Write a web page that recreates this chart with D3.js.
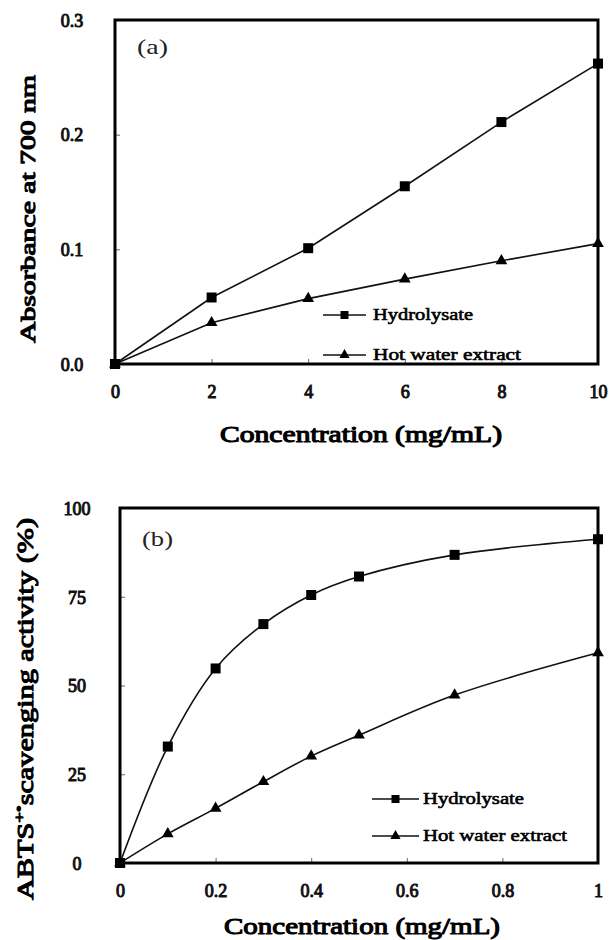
<!DOCTYPE html>
<html>
    <head>
        <meta charset="utf-8">
        <style>
        body {
            margin: 0;
            background: #fff;
        }
        svg text {
            font-family: "Liberation Serif", "Times New Roman", serif;
        }
        /* bold serif falls back to a sans face here, so thicken the regular face instead */
        .fb {
            font-weight: normal;
            stroke: #000;
            stroke-width: 1.1px;
            stroke-linejoin: round;
        }
        .tick line {
            stroke: #666;
            stroke-width: 1px;
        }
        .tick text {
            font-family: "Liberation Serif", "Times New Roman", serif;
            font-size: 18px;
            fill: #111;
            stroke: #111;
            stroke-width: 1px;
        }
        </style>
        <script src="https://d3js.org/d3.v7.min.js"></script>
    </head>
    <body>
        <script>

            // panel (a): reducing power
            var concA = [0, 2, 4, 6, 8, 10];
            var hydroA = [0, 0.058, 0.101, 0.155, 0.211, 0.262];
            var hotA = [0, 0.036, 0.057, 0.074, 0.090, 0.105];
            var xTicksA = [0, 2, 4, 6, 8, 10];
            var yTicksA = [0, 0.1, 0.2, 0.3];

            // panel (b): ABTS scavenging
            var concB = [0, 0.1, 0.2, 0.3, 0.4, 0.5, 0.7, 1.0];
            var hydroB = [0, 32.8, 54.8, 67.3, 75.5, 80.7, 86.8, 91.2];
            var hotB = [0, 8.2, 15.4, 22.9, 30.1, 36.0, 47.3, 59.2];
            var xTicksB = [0, 0.2, 0.4, 0.6, 0.8, 1];
            var yTicksB = [0, 25, 50, 75, 100];

            var seriesNames = ["Hydrolysate", "Hot water extract"];

            var svg = d3.select("body").append("svg")
                .attr("width", 609)
                .attr("height", 940);

            var square = d3.symbol().type(d3.symbolSquare);
            var triangle = d3.symbol().type(d3.symbolTriangle);

            var drawPanel = function(p) {
                var x = d3.scaleLinear().domain(p.xDomain).range([p.left, p.right]);
                var y = d3.scaleLinear().domain(p.yDomain).range([p.bottom, p.top]);

                var g = svg.append("g");

                // axes with inward ticks
                var xAxis = d3.axisBottom(x)
                    .tickValues(p.xTicks)
                    .tickFormat(p.xFormat)
                    .tickSizeInner(-5)
                    .tickSizeOuter(0)
                    .tickPadding(21);
                var yAxis = d3.axisLeft(y)
                    .tickValues(p.yTicks)
                    .tickFormat(p.yFormat)
                    .tickSizeInner(-5)
                    .tickSizeOuter(0);

                var gx = g.append("g")
                    .attr("transform", "translate(0," + p.bottom + ")")
                    .call(xAxis);
                gx.select(".domain").remove();

                var gy = g.append("g")
                    .attr("transform", "translate(" + p.left + ",0)")
                    .call(yAxis);
                gy.select(".domain").remove();
                gy.selectAll(".tick text")
                    .attr("x", -43)
                    .attr("dy", "0.35em")
                    .attr("text-anchor", "middle");

                var line = d3.line()
                    .x(function(d) { return x(d[0]); })
                    .y(function(d) { return y(d[1]); })
                    .curve(p.curve);

                p.series.forEach(function(s, i) {
                    var pts = p.xs.map(function(v, j) { return [v, s[j]]; });
                    g.append("path")
                        .datum(pts)
                        .attr("d", line)
                        .attr("fill", "none")
                        .attr("stroke", "#111")
                        .attr("stroke-width", 1.6);
                });

                // markers: triangles first so squares sit on top at the origin
                [1, 0].forEach(function(i) {
                    var pts = p.xs.map(function(v, j) { return [v, p.series[i][j]]; });
                    g.selectAll(null)
                        .data(pts)
                        .enter().append("path")
                        .attr("transform", function(d) {
                            return "translate(" + x(d[0]) + "," + y(d[1]) + ")";
                        })
                        .attr("d", i === 0 ? square.size(100)() : triangle.size(60)())
                        .attr("fill", "#000");
                });

                // frame
                g.append("rect")
                    .attr("x", p.left)
                    .attr("y", p.top)
                    .attr("width", p.right - p.left)
                    .attr("height", p.bottom - p.top)
                    .attr("fill", "none")
                    .attr("stroke", "#000")
                    .attr("stroke-width", 3);

                // panel letter
                g.append("text")
                    .attr("x", p.left + 22)
                    .attr("y", p.letterY)
                    .attr("font-size", 22)
                    .attr("fill", "#222")
                    .attr("textLength", 31)
                    .attr("lengthAdjust", "spacingAndGlyphs")
                    .text(p.letter);

                // legend
                seriesNames.forEach(function(name, i) {
                    var ly = p.legend.y[i];
                    g.append("line")
                        .attr("x1", p.legend.x1).attr("x2", p.legend.x2)
                        .attr("y1", ly).attr("y2", ly)
                        .attr("stroke", "#111").attr("stroke-width", 1.6);
                    g.append("path")
                        .attr("transform", "translate(" + ((p.legend.x1 + p.legend.x2) / 2) + "," + ly + ")")
                        .attr("d", i === 0 ? square.size(64)() : triangle.size(45)())
                        .attr("fill", "#000");
                    g.append("text")
                        .attr("class", "fb")
                        .attr("x", p.legend.tx)
                        .attr("y", ly + 5)
                        .attr("font-size", 17)
                        .style("stroke-width", "0.6px")
                        .attr("textLength", p.legend.widths[i])
                        .attr("lengthAdjust", "spacingAndGlyphs")
                        .text(name);
                });

                // axis titles
                g.append("text")
                    .attr("class", "fb")
                    .attr("x", p.xTitle.x)
                    .attr("y", p.xTitle.y)
                    .attr("text-anchor", "middle")
                    .attr("font-size", p.xTitle.size)
                    .attr("textLength", p.xTitle.len)
                    .attr("lengthAdjust", "spacingAndGlyphs")
                    .text("Concentration (mg/mL)");

                var yt = g.append("text")
                    .attr("class", "fb")
                    .attr("transform", "translate(" + p.yTitle.x + "," + p.yTitle.y + ") rotate(-90)")
                    .attr("text-anchor", "middle")
                    .attr("font-size", p.yTitle.size)
                    .attr("textLength", p.yTitle.len)
                    .attr("lengthAdjust", "spacingAndGlyphs");
                p.yTitle.parts(yt);
            };

            drawPanel({
                xDomain: [0, 10], yDomain: [0, 0.3],
                left: 115, right: 598, top: 20, bottom: 364,
                xTicks: xTicksA, yTicks: yTicksA,
                xFormat: d3.format("d"), yFormat: d3.format(".1f"),
                xs: concA, series: [hydroA, hotA],
                curve: d3.curveLinear,
                letter: "(a)", letterY: 54,
                legend: { x1: 323, x2: 366, tx: 373, y: [315, 355], widths: [100, 148] },
                xTitle: { x: 361, y: 442, size: 23, len: 282 },
                yTitle: { x: 35, y: 209, size: 22, len: 268,
                    parts: function(t) { t.text("Absorbance at 700 nm"); } }
            });

            drawPanel({
                xDomain: [0, 1], yDomain: [0, 100],
                left: 120, right: 598, top: 508, bottom: 863,
                xTicks: xTicksB, yTicks: yTicksB,
                xFormat: d3.format(""), yFormat: d3.format("d"),
                xs: concB, series: [hydroB, hotB],
                curve: d3.curveCatmullRom,
                letter: "(b)", letterY: 546,
                legend: { x1: 372, x2: 419, tx: 423, y: [799, 836], widths: [101, 144] },
                xTitle: { x: 362, y: 934, size: 24, len: 276 },
                yTitle: { x: 33, y: 709, size: 24, len: 382,
                    parts: function(t) {
                        t.append("tspan").text("ABTS");
                        t.append("tspan").attr("dy", -9).attr("font-size", 15).text("+\u2022");
                        t.append("tspan").attr("dy", 9).text("scavenging activity (%)");
                    } }
            });

        </script>
    </body>
</html>
